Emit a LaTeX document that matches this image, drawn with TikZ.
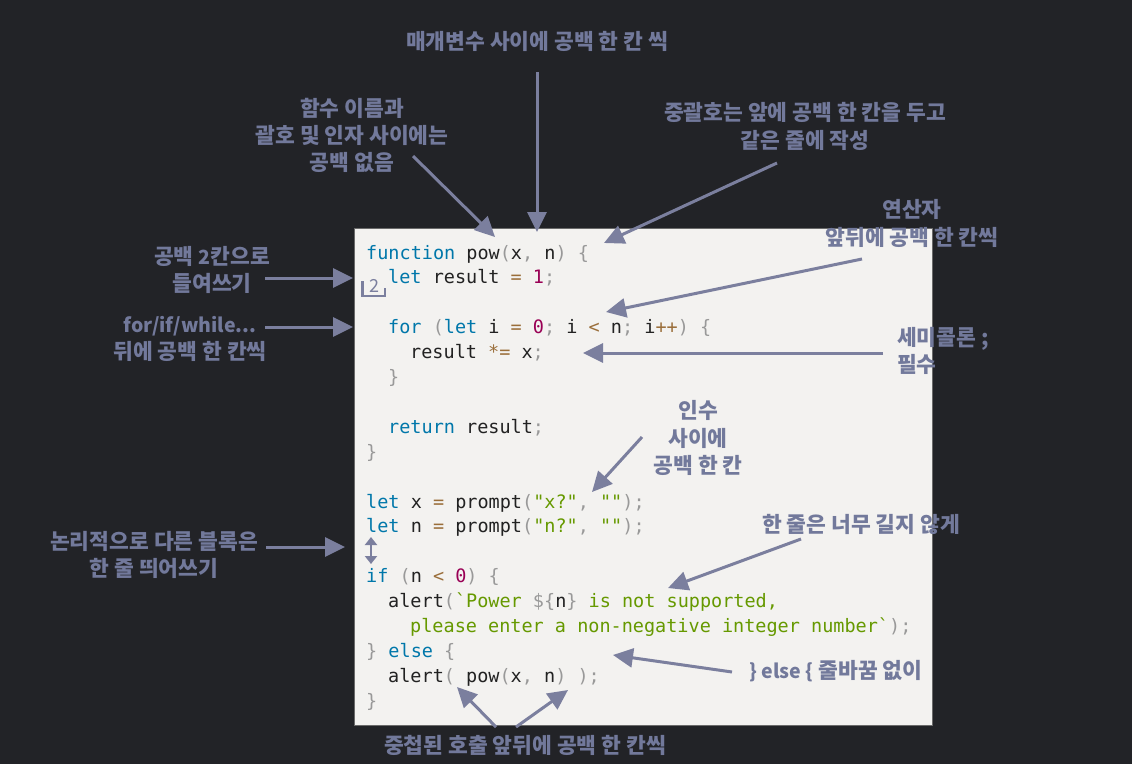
\documentclass[tikz,border=0pt]{standalone}
\usepackage{fontspec}
\usetikzlibrary{arrows.meta}
\newfontfamily\kr{Noto Sans CJK KR}
\newfontfamily\codefont{DejaVu Sans Mono}
\definecolor{bgc}{HTML}{222327}
\definecolor{boxc}{HTML}{F3F2F0}
\definecolor{boxline}{HTML}{6A6A6A}
\definecolor{lblc}{HTML}{72799B}
\definecolor{arrc}{HTML}{7B7F9E}
\definecolor{kwc}{HTML}{0077AA}
\definecolor{opc}{HTML}{9A6E3A}
\definecolor{numc}{HTML}{990055}
\definecolor{puc}{HTML}{999999}
\definecolor{stc}{HTML}{669900}
\definecolor{plc}{HTML}{222222}
\newcommand\kw[1]{\textcolor{kwc}{#1}}
\newcommand\opx[1]{\textcolor{opc}{#1}}
\newcommand\nmx[1]{\textcolor{numc}{#1}}
\newcommand\pux[1]{\textcolor{puc}{#1}}
\newcommand\stx[1]{\textcolor{stc}{#1}}
\newcommand\latn[1]{{\fontsize{19.5}{27.3}\selectfont #1}}
\tikzset{
  codeline/.style={anchor=base west, inner sep=0pt, text=plc, font=\codefont\fontsize{18.5}{24.9}\selectfont},
  lbl/.style={text=lblc, align=center, inner sep=0pt, font=\kr\bfseries\fontsize{21.5}{27.3}\selectfont},
  callout/.style={draw=arrc, line width=3pt, -{Triangle[length=20pt,width=19pt]}},
  gaparrow/.style={draw=arrc, line width=2pt, {Triangle[length=8pt,width=12pt]}-{Triangle[length=8pt,width=12pt]}}
}
\begin{document}
\begin{tikzpicture}[x=1pt,y=-1pt]
\fill[bgc] (0,0) rectangle (1132,764);
\useasboundingbox (0,0) rectangle (1132,764);
% code box
\draw[fill=boxc, draw=boxline, line width=1pt] (354.5,228.5) rectangle (932,725);
% code lines
\node[codeline] (c1) at (366,259) {\kw{function} pow\pux{(}x\pux{,} n\pux{)} \pux{\{}};
\node[codeline] (c2) at (388,283.9) {\kw{let} result \opx{=} \nmx{1}\pux{;}};
\node[codeline] (c4) at (388,333.7) {\kw{for} \pux{(}\kw{let} i \opx{=} \nmx{0}\pux{;} i \opx{<} n\pux{;} i\opx{++}\pux{)} \pux{\{}};
\node[codeline] (c5) at (410,358.6) {result \opx{*=} x\pux{;}};
\node[codeline] (c6) at (388,383.5) {\pux{\}}};
\node[codeline] (c8) at (388,433.3) {\kw{return} result\pux{;}};
\node[codeline] (c9) at (366,458.2) {\pux{\}}};
\node[codeline] (c11) at (366,508) {\kw{let} x \opx{=} prompt\pux{(}\stx{"x?"}\pux{,} \stx{""}\pux{);}};
\node[codeline] (c12) at (366,532.9) {\kw{let} n \opx{=} prompt\pux{(}\stx{"n?"}\pux{,} \stx{""}\pux{);}};
\node[codeline] (c14) at (366,582.7) {\kw{if} \pux{(}n \opx{<} \nmx{0}\pux{)} \pux{\{}};
\node[codeline] (c15) at (388,607.6) {alert\pux{(}\stx{`Power} \pux{\$\{}n\pux{\}} \stx{is not supported,}};
\node[codeline] (c16) at (410,632.5) {\stx{please enter a non-negative integer number`}\pux{);}};
\node[codeline] (c17) at (366,657.4) {\pux{\}} \kw{else} \pux{\{}};
\node[codeline] (c18) at (388,682.3) {alert\pux{(} pow\pux{(}x\pux{,} n\pux{)} \pux{);}};
\node[codeline] (c19) at (366,707.2) {\pux{\}}};
% indent marker
\draw[arrc, line width=2.6pt] (362.5,281) -- (362.5,296) -- (385,296) -- (385,288);
\node[text=arrc, inner sep=0pt, font=\kr\fontsize{18}{18}\selectfont] (two) at (374,285.5) {2};
% labels
\node[lbl] (ltop) at (537,41) {매개변수 사이에 공백 한 칸 씩};
\node[lbl] (lfunc) at (352,135.5) {함수 이름과\\괄호 및 인자 사이에는\\공백 없음};
\node[lbl] (lbrace) at (805,126.5) {중괄호는 앞에 공백 한 칸을 두고\\같은 줄에 작성};
\node[lbl] (lop) at (912,223.5) {연산자\\앞뒤에 공백 한 칸씩};
\node[lbl, align=left, anchor=west] (lsemi) at (897,351) {세미콜론 ;\\필수};
\node[lbl] (lindent) at (212,270) {공백 \latn{2}칸으로\\들여쓰기};
\node[lbl] (lfor) at (190,339) {\latn{for/if/while...}\\뒤에 공백 한 칸씩};
\node[lbl] (largs) at (698,438) {인수\\사이에\\공백 한 칸};
\node[lbl] (llong) at (861,524) {한 줄은 너무 길지 않게};
\node[lbl] (lblock) at (154,555) {논리적으로 다른 블록은\\한 줄 띄어쓰기};
\node[lbl] (lelse) at (836,671) {\latn{\} else \{} 줄바꿈 없이};
\node[lbl] (lnest) at (525,745) {중첩된 호출 앞뒤에 공백 한 칸씩};
% arrow end points
\coordinate (t1) at (537,72);   \coordinate (h1) at (537,232);
\coordinate (t2) at (413,156);  \coordinate (h2) at (495,237);
\coordinate (t3) at (777,163);  \coordinate (h3) at (604,243);
\coordinate (t4) at (862,259);  \coordinate (h4) at (606,312);
\coordinate (t5) at (883,353);  \coordinate (h5) at (583,353);
\coordinate (t6) at (265,278);  \coordinate (h6) at (353,278);
\coordinate (t7) at (265,327);  \coordinate (h7) at (353,327);
\coordinate (t8) at (642,437);  \coordinate (h8) at (592,492);
\coordinate (t9) at (801,539);  \coordinate (h9) at (668,588);
\coordinate (t10) at (266,547); \coordinate (h10) at (345,547);
\coordinate (t11) at (732,672); \coordinate (h11) at (613,655);
\coordinate (t12) at (496,727); \coordinate (h12) at (457,687);
\coordinate (t13) at (516,727); \coordinate (h13) at (568,690);
\coordinate (g1) at (371,537);  \coordinate (g2) at (371,564);
% arrows
\foreach \i in {1,...,13} { \draw[callout] (t\i) -- (h\i); }
\draw[gaparrow] (g1) -- (g2);
\end{tikzpicture}
\end{document}
